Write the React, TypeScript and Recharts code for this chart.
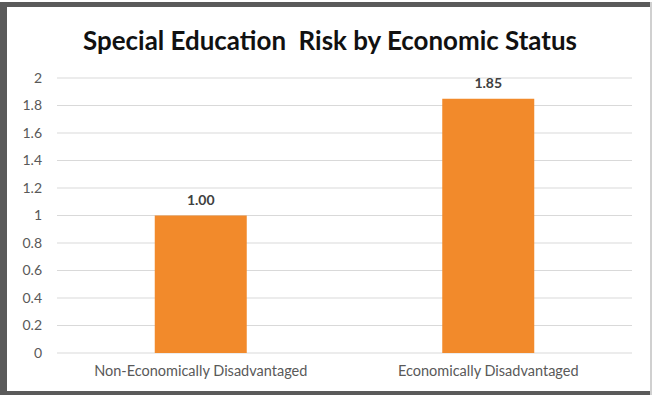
import React from "react";
import { BarChart, Bar, XAxis, YAxis, CartesianGrid, LabelList } from "recharts";

const categories = ["Non-Economically Disadvantaged", "Economically Disadvantaged"];
const riskValues = [1.0, 1.85];
const yTicks = [0, 0.2, 0.4, 0.6, 0.8, 1, 1.2, 1.4, 1.6, 1.8, 2];
const title = "Special Education\u00A0 Risk by Economic Status";

const data = categories.map((c, i) => ({ name: c, value: riskValues[i] }));

const FONT = "Lato, 'Open Sans', sans-serif";

export default function App() {
  return (
    <div style={{ position: "absolute", left: 0, top: 0, width: 652, height: 395, background: "#fff", overflow: "hidden" }}>
      <div style={{ position: "absolute", left: 0, top: 2, width: 7, height: 393, background: "#5a5a5a" }} />
      <div style={{ position: "absolute", left: 0, top: 2, width: 652, height: 5, background: "#5a5a5a" }} />
      <div style={{ position: "absolute", left: 0, top: 391, width: 652, height: 4, background: "#5a5a5a" }} />
      <div style={{ position: "absolute", left: 650, top: 2, width: 2, height: 393, background: "#d0d0d0" }} />
      <div style={{ position: "absolute", left: 0, top: 0 }}>
        <BarChart
          width={652}
          height={395}
          data={data}
          margin={{ top: 78, right: 20, left: 0, bottom: 12 }}
          barCategoryGap="34%"
        >
          <text
            x={330}
            y={50}
            textAnchor="middle"
            fontFamily={FONT}
            fontWeight={700}
            fontSize={26}
            fill="#111"
            textLength={494}
            lengthAdjust="spacingAndGlyphs"
          >
            {title}
          </text>
          <CartesianGrid vertical={false} stroke="#d9d9d9" strokeWidth={1} />
          <XAxis
            dataKey="name"
            axisLine={false}
            tickLine={false}
            tickSize={0}
            tickMargin={13}
            height={30}
            interval={0}
            tick={{ fill: "#595959", fontSize: 14.5, fontFamily: FONT }}
          />
          <YAxis
            domain={[0, 2]}
            ticks={yTicks}
            width={57}
            axisLine={false}
            tickLine={false}
            tickSize={0}
            tickMargin={15}
            tick={{ fill: "#595959", fontSize: 14, fontFamily: FONT }}
          />
          <Bar dataKey="value" fill="#F28A2B" isAnimationActive={false}>
            <LabelList
              dataKey="value"
              position="top"
              offset={11}
              formatter={(v: number) => v.toFixed(2)}
              style={{ fill: "#404040", fontSize: 14, fontWeight: 700, fontFamily: FONT }}
            />
          </Bar>
        </BarChart>
      </div>
    </div>
  );
}
